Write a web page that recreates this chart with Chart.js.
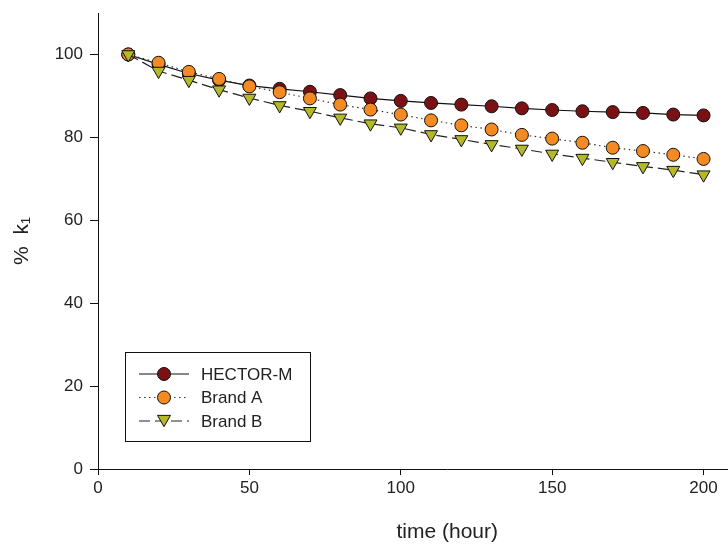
<!DOCTYPE html>
<html><head><meta charset="utf-8">
<script src="https://cdn.jsdelivr.net/npm/chart.js@4.4.0/dist/chart.umd.min.js"></script>
<style>html,body{margin:0;padding:0;background:#fff;overflow:hidden;}#wrap{width:728px;height:545px;overflow:hidden;}</style>
</head><body><div id="wrap"><canvas id="c" width="805" height="545"></canvas></div>
<script>
const timeHours = [10,20,30,40,50,60,70,80,90,100,110,120,130,140,150,160,170,180,190,200];
const hectorM = [100,97.6,95.4,93.8,92.5,91.7,91.0,90.2,89.4,88.8,88.3,87.9,87.5,87.0,86.6,86.3,86.1,85.9,85.5,85.3];
const brandA  = [100,98.0,95.8,94.1,92.3,90.9,89.4,87.9,86.7,85.5,84.1,82.9,81.9,80.6,79.7,78.7,77.5,76.7,75.8,74.8];
const brandB  = [100,96.0,93.8,91.5,89.5,87.7,86.3,84.7,83.3,82.3,80.7,79.5,78.3,77.2,76.0,75.0,74.0,73.0,72.1,71.0];
const xTicks = [0,50,100,150,200];
const yTicks = [0,20,40,60,80,100];
const seriesNames = ['HECTOR-M','Brand A','Brand B'];

const FONT = '"Liberation Sans", Arial, sans-serif';
const toXY = arr => arr.map((v,i)=>({x:timeHours[i], y:v}));

const legendPlugin = {
  id:'boxLegend',
  afterDatasetsDraw(chart){
    const ctx = chart.ctx;
    const bx=125.5, by=352.5, bw=185, bh=89;
    ctx.save();
    ctx.fillStyle='#fff';
    ctx.fillRect(bx,by,bw,bh);
    ctx.strokeStyle='#111'; ctx.lineWidth=1;
    ctx.strokeRect(bx,by,bw,bh);
    const ordered = chart.data.datasets.slice().reverse();
    ordered.forEach((ds,i)=>{
      const y = 374 + i*23.5;
      ctx.save();
      ctx.strokeStyle=ds.borderColor; ctx.lineWidth=ds.borderWidth;
      ctx.setLineDash(ds.borderDash||[]);
      ctx.beginPath(); ctx.moveTo(139,y); ctx.lineTo(189,y); ctx.stroke();
      ctx.restore();
      ctx.save();
      ctx.fillStyle=ds.pointBackgroundColor; ctx.strokeStyle='#111'; ctx.lineWidth=1;
      ctx.setLineDash([]);
      ctx.beginPath();
      if(ds.pointStyle==='circle'){ ctx.arc(164,y,ds.pointRadius,0,Math.PI*2); }
      else { const r=ds.pointRadius; const h=r*1.5; ctx.moveTo(164-r*0.87,y-h*0.5); ctx.lineTo(164+r*0.87,y-h*0.5); ctx.lineTo(164,y+h*0.5); ctx.closePath(); }
      ctx.fill(); ctx.stroke();
      ctx.restore();
      ctx.fillStyle='#222'; ctx.font='17px '+FONT; ctx.textBaseline='middle'; ctx.textAlign='left';
      ctx.fillText(ds.label, 201, y+1);
    });
    ctx.restore();
  }
};

new Chart(document.getElementById('c'), {
  type:'line',
  data:{datasets:[
    {label:seriesNames[0], data:toXY(hectorM), borderColor:'#111', borderWidth:1.2, backgroundColor:'#7a1114', pointBackgroundColor:'#7a1114', pointBorderColor:'#111', pointBorderWidth:1, pointStyle:'circle', pointRadius:6.5, tension:0},
    {label:seriesNames[1], data:toXY(brandA), borderColor:'#333', borderWidth:1.2, borderDash:[1.5,3.5], backgroundColor:'#f38a22', pointBackgroundColor:'#f38a22', pointBorderColor:'#111', pointBorderWidth:1, pointStyle:'circle', pointRadius:6.5, tension:0},
    {label:seriesNames[2], data:toXY(brandB), borderColor:'#222', borderWidth:1.2, borderDash:[11,5], backgroundColor:'#b4b92a', pointBackgroundColor:'#b4b92a', pointBorderColor:'#111', pointBorderWidth:1, pointStyle:'triangle', pointRotation:180, pointRadius:7.5, tension:0}
  ].reverse()},
  options:{
    responsive:false, animation:false, devicePixelRatio:1,
    layout:{padding:{top:13,right:0,left:0,bottom:0}},
    plugins:{legend:{display:false}, tooltip:{enabled:false}},
    scales:{
      x:{type:'linear', min:0, max:230.7,
        afterBuildTicks(s){ s.ticks = xTicks.map(v=>({value:v})); },
        afterFit(s){ s.height = 76; s.paddingRight = 0; s.paddingLeft = 0; },
        grid:{drawOnChartArea:false, tickLength:6, color:'#111', tickWidth:1},
        border:{display:true, color:'#111', width:1},
        ticks:{color:'#222', font:{family:FONT,size:17}, padding:3, maxRotation:0},
        title:{display:true, text:'time (hour)', color:'#222', font:{family:FONT,size:21}, padding:{top:6,bottom:0}}
      },
      y:{type:'linear', min:0, max:110,
        afterBuildTicks(s){ s.ticks = yTicks.map(v=>({value:v})); },
        afterFit(s){ s.width = 98; s.paddingTop = 0; s.paddingBottom = 0; },
        grid:{drawOnChartArea:false, tickLength:8, color:'#111', tickWidth:1},
        border:{display:true, color:'#111', width:1},
        ticks:{color:'#222', font:{family:FONT,size:17}, padding:7},
        title:{display:true, text:'%  k\u2081', color:'#222', font:{family:FONT,size:21}, padding:{top:10,bottom:0}}
      }
    }
  },
  plugins:[legendPlugin]
});
</script></body></html>
